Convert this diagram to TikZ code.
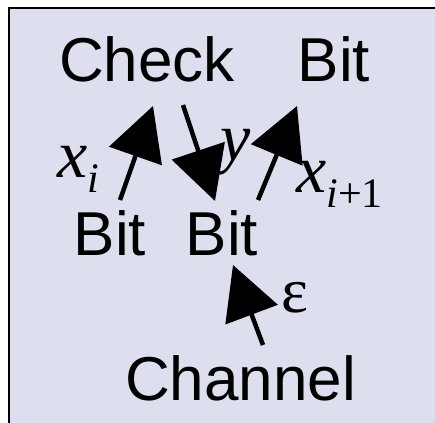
\documentclass[tikz,border=0pt]{standalone}
\usepackage{fontspec}
\setmainfont{Liberation Sans}
\newfontfamily\serifface{Liberation Serif}
\usetikzlibrary{arrows.meta}
\definecolor{panelfill}{RGB}{221,223,238}
\tikzset{
  word/.style={anchor=base west, inner sep=0pt, font=\fontsize{62}{70}\selectfont},
  var/.style={anchor=base west, inner sep=0pt, font=\serifface\itshape\fontsize{68}{74}\selectfont},
  greek/.style={anchor=base west, inner sep=0pt, font=\serifface\fontsize{64}{70}\selectfont},
  bigarrow/.style={line width=4.5pt, -{Triangle[length=53pt 0 0,width=55pt 0 0]}},
}
\newcommand{\subtxt}[1]{\raisebox{-15pt}{\fontsize{42}{44}\selectfont #1}}
\begin{document}
\begin{tikzpicture}[x=1pt,y=-1pt]
  \clip (0,0) rectangle (435,422);
  \fill[white] (0,0) rectangle (435,422);
  \draw[line width=2pt, fill=panelfill] (8.5,8.5) rectangle (445,432);

  % factor graph labels
  \node[word] (check) at (59,82) {Check};
  \node[word] (bittop) at (297.5,82) {Bit};
  \node[word] (bitA) at (73.5,255) {Bit};
  \node[word] (bitB) at (185.5,255) {Bit};
  \node[word] (channel) at (125,400) {Channel};

  % message labels
  \node[var] (xi) at (57,177) {x\subtxt{i}};
  \node[var] (yl) at (220,160) {y};
  \node[var] (xip) at (296,192) {x\subtxt{i\upshape+1}};
  \node[greek] (eps) at (281,312) {ε};

  % arrow end points
  \coordinate (aTail) at (120,200);
  \coordinate (aTip) at (153,106);
  \coordinate (bTail) at (183,105);
  \coordinate (bTip) at (215,201);
  \coordinate (cTail) at (258,200);
  \coordinate (cTip) at (297,106);
  \coordinate (dTail) at (263,345);
  \coordinate (dTip) at (233,265);

  \draw[bigarrow] (aTail) -- (aTip);
  \draw[bigarrow] (bTail) -- (bTip);
  \draw[bigarrow] (cTail) -- (cTip);
  \draw[bigarrow] (dTail) -- (dTip);
\end{tikzpicture}
\end{document}
